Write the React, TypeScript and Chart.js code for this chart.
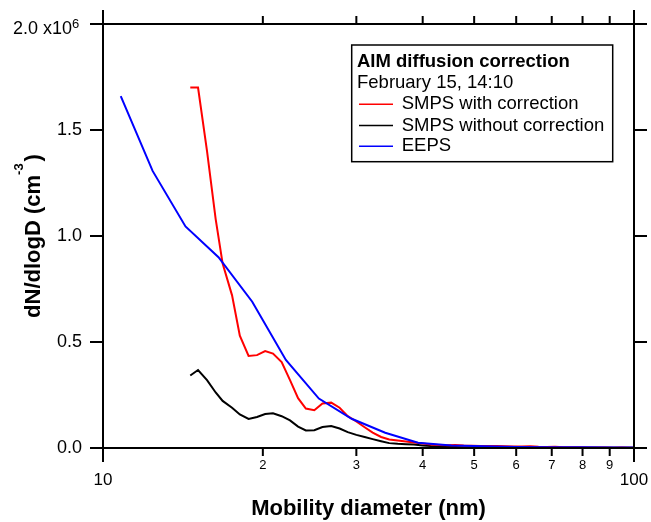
import React, { useEffect, useRef } from 'react';
import { Chart, registerables } from 'chart.js';

Chart.register(...registerables);

const FONT = '"Liberation Sans", Arial, Helvetica, sans-serif';

// Axis ticks
const xTickValues = [10, 20, 30, 40, 50, 60, 70, 80, 90, 100];
const xMajorTicks = [10, 100];
const yTickValues = [0, 0.5e6, 1.0e6, 1.5e6, 2.0e6];

// Legend texts
const legendTitle = 'AIM diffusion correction';
const legendSubtitle = 'February 15, 14:10';

// EEPS (nm) and dN/dlogD (x1e6 cm^-3)
const eepsDiameters = [10.8, 12.4, 14.3, 16.5, 19.1, 22.1, 25.5, 29.4, 34.0, 39.2, 45.3, 52.3, 60.4, 69.8, 80.6, 93.1, 107.5];
const eepsValues = [1.66, 1.307, 1.045, 0.90, 0.69, 0.415, 0.233, 0.138, 0.072, 0.025, 0.012, 0.008, 0.005, 0.004, 0.003, 0.002, 0.002];

// SMPS channel midpoints (nm)
const smpsDiameters = [
  14.6, 15.1, 15.7, 16.3, 16.8, 17.5, 18.1, 18.8, 19.5, 20.2, 20.9, 21.7, 22.5, 23.3, 24.1, 25.0,
  25.9, 26.9, 27.9, 28.9, 30.0, 31.1, 32.2, 33.4, 34.6, 35.9, 37.2, 38.5, 40.0, 41.4, 42.9, 44.5,
  46.1, 47.8, 49.6, 51.4, 53.3, 55.2, 57.3, 59.4, 61.5, 63.8, 66.1, 68.5, 71.0, 73.7, 76.4, 79.1,
  82.0, 85.1, 88.2, 91.4, 94.7, 98.2, 101.8,
];
const smpsCorrected = [
  1.70, 1.70, 1.40, 1.08, 0.87, 0.72, 0.53, 0.434, 0.438, 0.457, 0.445, 0.405, 0.32, 0.235, 0.186, 0.178,
  0.21, 0.214, 0.19, 0.15, 0.125, 0.098, 0.073, 0.052, 0.040, 0.035, 0.031, 0.026, 0.021, 0.017, 0.014, 0.013,
  0.014, 0.012, 0.011, 0.010, 0.010, 0.009, 0.008, 0.007, 0.007, 0.008, 0.006, 0.005, 0.006, 0.004, 0.003, 0.003,
  0.002, 0.002, 0.002, 0.001, 0.002, 0.001, 0.001,
];
const smpsUncorrected = [
  0.342, 0.368, 0.32, 0.262, 0.222, 0.19, 0.158, 0.137, 0.146, 0.16, 0.164, 0.15, 0.13, 0.101, 0.083, 0.084,
  0.099, 0.104, 0.092, 0.075, 0.062, 0.052, 0.042, 0.032, 0.023, 0.020, 0.018, 0.016, 0.012, 0.009, 0.007, 0.006,
  0.005, 0.004, 0.004, 0.003, 0.003, 0.003, 0.003, 0.002, 0.002, 0.002, 0.002, 0.002, 0.002, 0.001, 0.001, 0.001,
  0.001, 0.001, 0.001, 0.001, 0.001, 0.001, 0.001,
];

const toPoints = (xs: number[], ys: number[]) => xs.map((x, i) => ({ x, y: ys[i] * 1e6 }));

const framePlugin = {
  id: 'frameAndAnnotations',
  afterDraw(chart: any) {
    const { ctx, chartArea: a, scales } = chart;
    const xs = scales.x;
    const ys = scales.y;
    ctx.save();
    // frame + ticks
    ctx.strokeStyle = '#000';
    ctx.lineWidth = 2;
    ctx.beginPath();
    ctx.rect(a.left, a.top, a.right - a.left, a.bottom - a.top);
    xTickValues.forEach((v) => {
      const px = xs.getPixelForValue(v);
      const len = xMajorTicks.includes(v) ? 14 : 8;
      ctx.moveTo(px, a.bottom);
      ctx.lineTo(px, a.bottom + len);
      ctx.moveTo(px, a.top);
      ctx.lineTo(px, a.top - len);
    });
    yTickValues.forEach((v) => {
      const py = ys.getPixelForValue(v);
      ctx.moveTo(a.left, py);
      ctx.lineTo(a.left - 13, py);
      ctx.moveTo(a.right, py);
      ctx.lineTo(a.right + 13, py);
    });
    ctx.stroke();

    // exponent of top y label
    ctx.fillStyle = '#000';
    ctx.font = `18px ${FONT}`;
    const spaceW = ctx.measureText('  ').width;
    ctx.font = `13px ${FONT}`;
    ctx.textAlign = 'left';
    ctx.textBaseline = 'alphabetic';
    ctx.fillText('6', a.left - 13 - 8 - spaceW, ys.getPixelForValue(2e6) + 4);

    // y title with superscript
    const cy = (a.top + a.bottom) / 2;
    ctx.translate(40, cy);
    ctx.rotate(-Math.PI / 2);
    const main = 'dN/dlogD (cm';
    const sup = '-3';
    const close = ')';
    ctx.font = `bold 22px ${FONT}`;
    const wMain = ctx.measureText(main).width;
    const wClose = ctx.measureText(close).width;
    ctx.font = `bold 13px ${FONT}`;
    const wSup = ctx.measureText(sup).width;
    let x = -(wMain + wSup + wClose + 2) / 2;
    ctx.font = `bold 22px ${FONT}`;
    ctx.fillText(main, x, 0);
    x += wMain;
    ctx.font = `bold 13px ${FONT}`;
    ctx.fillText(sup, x, -17);
    x += wSup + 2;
    ctx.font = `bold 22px ${FONT}`;
    ctx.fillText(close, x, 0);
    ctx.restore();

    // legend box
    ctx.save();
    ctx.strokeStyle = '#000';
    ctx.lineWidth = 1.5;
    ctx.strokeRect(351.7, 45, 261, 116.7);
    ctx.fillStyle = '#000';
    ctx.textAlign = 'left';
    ctx.textBaseline = 'middle';
    ctx.font = `bold 18.5px ${FONT}`;
    ctx.fillText(legendTitle, 357, 61.5);
    ctx.font = `18.5px ${FONT}`;
    ctx.fillText(legendSubtitle, 357, 82.5);
    const rowY = [104.3, 125.6, 146.2];
    chart.data.datasets.forEach((ds: any, i: number) => {
      const y = rowY[i];
      ctx.strokeStyle = ds.borderColor;
      ctx.lineWidth = 1.5;
      ctx.beginPath();
      ctx.moveTo(359, y);
      ctx.lineTo(393, y);
      ctx.stroke();
      ctx.fillText(ds.label, 401.7, y);
    });
    ctx.restore();
  },
};

export default function App() {
  const canvasRef = useRef<HTMLCanvasElement | null>(null);

  useEffect(() => {
    if (!canvasRef.current) return;
    Chart.defaults.font.family = FONT;
    Chart.defaults.color = '#000';
    const chart = new Chart(canvasRef.current, {
      type: 'line',
      data: {
        datasets: [
          {
            label: 'SMPS with correction',
            data: toPoints(smpsDiameters, smpsCorrected),
            borderColor: '#ff0000',
            borderWidth: 2,
            pointRadius: 0,
            tension: 0,
            order: 1,
          },
          {
            label: 'SMPS without correction',
            data: toPoints(smpsDiameters, smpsUncorrected),
            borderColor: '#000000',
            borderWidth: 2,
            pointRadius: 0,
            tension: 0,
            order: 2,
          },
          {
            label: 'EEPS',
            data: toPoints(eepsDiameters, eepsValues),
            borderColor: '#0000ff',
            borderWidth: 2,
            pointRadius: 0,
            tension: 0,
            order: 0,
          },
        ],
      },
      options: {
        animation: false,
        responsive: true,
        maintainAspectRatio: false,
        parsing: false as any,
        layout: { padding: { top: 24, right: 17, bottom: 0, left: 0 } },
        plugins: {
          legend: { display: false },
          tooltip: { enabled: false },
          title: { display: false },
        },
        scales: {
          x: {
            type: 'logarithmic',
            min: 10,
            max: 100,
            afterBuildTicks: (scale: any) => {
              scale.ticks = xTickValues.map((v) => ({ value: v }));
            },
            afterFit: (scale: any) => {
              scale.height = 74;
            },
            grid: { drawOnChartArea: false, drawTicks: true, tickLength: 8, color: 'rgba(0,0,0,0)' },
            border: { display: false },
            ticks: {
              autoSkip: false,
              maxRotation: 0,
              minRotation: 0,
              padding: 1.2,
              color: '#000',
              font: (ctx: any) =>
                ctx.tick && xMajorTicks.includes(ctx.tick.value)
                  ? { size: 17, lineHeight: '15.7px' }
                  : { size: 13, lineHeight: 1.2 },
              callback: (value: any) => {
                const v = Number(value);
                if (xMajorTicks.includes(v)) return ['', String(v)];
                return String(Math.round(v / 10));
              },
            },
            title: {
              display: true,
              text: 'Mobility diameter (nm)',
              color: '#000',
              font: { size: 22, weight: 'bold' },
              padding: { top: 0, bottom: 0 },
            },
          },
          y: {
            type: 'linear',
            min: 0,
            max: 2e6,
            afterBuildTicks: (scale: any) => {
              scale.ticks = yTickValues.map((v) => ({ value: v }));
            },
            afterFit: (scale: any) => {
              scale.width = 103;
            },
            grid: { drawOnChartArea: false, drawTicks: true, tickLength: 13, color: 'rgba(0,0,0,0)' },
            border: { display: false },
            ticks: {
              padding: 8,
              color: '#000',
              font: (ctx: any) =>
                ctx.tick && ctx.tick.value === 2e6
                  ? { size: 18, lineHeight: '10px' }
                  : { size: 18, lineHeight: 1.2 },
              callback: (value: any) => {
                const v = Number(value);
                if (v === 2e6) return ['', '2.0 x10  '];
                return (v / 1e6).toFixed(1);
              },
            },
          },
        },
      },
      plugins: [framePlugin],
    });
    return () => chart.destroy();
  }, []);

  return (
    <div style={{ position: 'fixed', left: 0, top: 0, width: 651, height: 522, background: '#fff' }}>
      <canvas ref={canvasRef} />
    </div>
  );
}
